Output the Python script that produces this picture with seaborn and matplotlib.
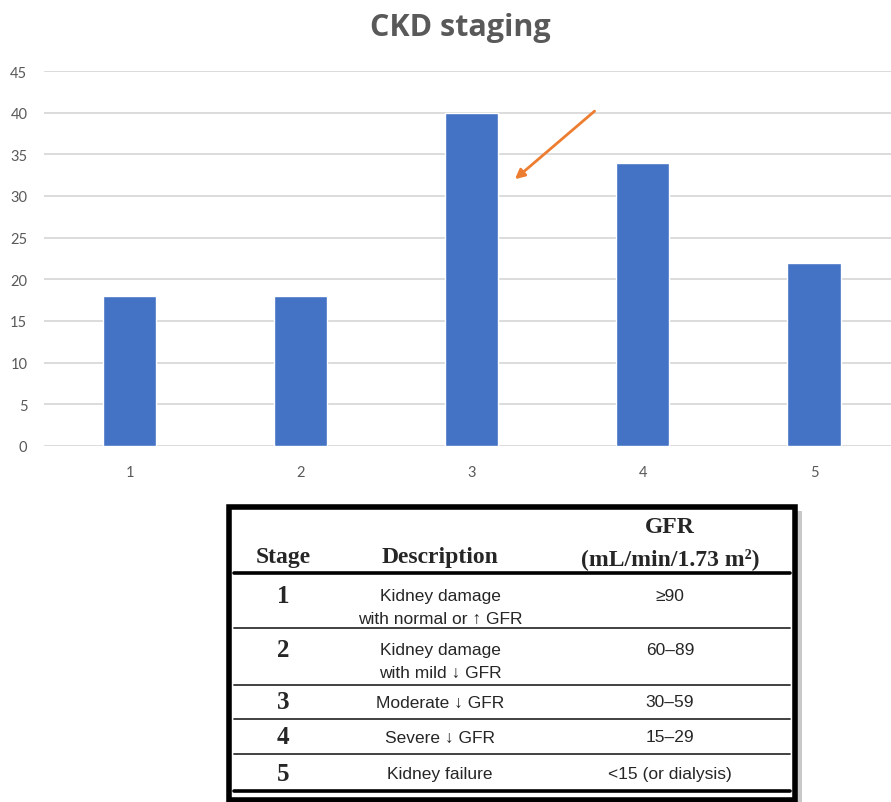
import matplotlib
matplotlib.use('Agg')
import matplotlib.pyplot as plt
import seaborn as sns

# Daten des Balkendiagramms
stages = ['1', '2', '3', '4', '5']
patients = [18, 18, 40, 34, 22]
y_ticks = [0, 5, 10, 15, 20, 25, 30, 35, 40, 45]

# Tabelle der CKD-Stadien
table_header = ['Stage', 'Description', 'GFR', '(mL/min/1.73 m²)']
table_stage = ['1', '2', '3', '4', '5']
table_desc = [['Kidney damage', 'with normal or ↑ GFR'],
              ['Kidney damage', 'with mild ↓ GFR'],
              ['Moderate ↓ GFR'],
              ['Severe ↓ GFR'],
              ['Kidney failure']]
table_gfr = ['≥90', '60–89', '30–59', '15–29', '<15 (or dialysis)']

sns.set_style('white')
plt.rcParams['font.family'] = ['Lato', 'DejaVu Sans']

fig = plt.figure(figsize=(8.91, 8.03), dpi=100)

# --- Balkendiagramm ---
ax = fig.add_axes([44 / 891, 1 - 447 / 803, 1 - 44 / 891, (447 - 72) / 803])
sns.barplot(x=stages, y=patients, color='#4472C4', saturation=1, width=0.31, ax=ax)
ax.set_ylim(0, 45)
ax.set_xlim(-0.5, 4.45)
ax.set_yticks(y_ticks)
ax.grid(axis='y', color='#D9D9D9', linewidth=1.3)
ax.set_axisbelow(True)
for s in ax.spines.values():
    s.set_visible(False)
ax.tick_params(axis='both', length=0, labelsize=10.5, labelcolor='#595959')
ax.tick_params(axis='y', pad=12)
ax.tick_params(axis='x', pad=14)
ax.set_xlabel('')
ax.set_ylabel('')

# Pfeil auf Stadium 3
ax.annotate('', xy=(2.24, 31.8), xytext=(2.73, 40.4),
            arrowprops=dict(arrowstyle='-|>', color='#ED7D31', lw=2, mutation_scale=14),
            annotation_clip=False)

fig.text(460 / 891, 1 - 28 / 803, 'CKD staging', ha='center', va='center',
         fontsize=22, fontweight='bold', color='#595959', family=['Open Sans', 'DejaVu Sans'])

# --- Tabelle (Pixelkoordinaten) ---
tx = fig.add_axes([0, 0, 1, 1])
tx.set_xlim(0, 891)
tx.set_ylim(803, 0)
tx.axis('off')

# Schatten und Rahmen
tx.add_patch(plt.Rectangle((232, 512), 570, 300, facecolor='#C8C8C8', edgecolor='none', zorder=1))
tx.add_patch(plt.Rectangle((229, 508), 566, 293, facecolor='white', edgecolor='black', lw=4, zorder=2))

serif = ['Liberation Serif', 'DejaVu Serif']
sans = ['Liberation Sans Narrow', 'Liberation Sans', 'DejaVu Sans']
col_stage, col_desc, col_gfr = 283, 440, 670

tx.text(col_stage, 558, table_header[0], ha='center', va='center', fontsize=17,
        fontweight='bold', family=serif, zorder=3)
tx.text(col_desc, 558, table_header[1], ha='center', va='center', fontsize=17,
        fontweight='bold', family=serif, zorder=3)
tx.text(col_gfr, 528, table_header[2], ha='center', va='center', fontsize=17,
        fontweight='bold', family=serif, zorder=3)
tx.text(col_gfr, 559, table_header[3], ha='center', va='center', fontsize=17,
        fontweight='bold', family=serif, zorder=3)

# Linien
tx.plot([234, 790], [574, 574], color='black', lw=2.6, zorder=3)
for yl in [629, 686, 720, 755]:
    tx.plot([234, 790], [yl, yl], color='#333333', lw=1.3, zorder=3)
tx.plot([234, 790], [792, 792], color='black', lw=2.6, zorder=3)

row_y = [597, 651, 703, 738, 775]
for i, y in enumerate(row_y):
    tx.text(col_stage, y, table_stage[i], ha='center', va='center', fontsize=18,
            fontweight='bold', family=serif, zorder=3)
    for j, line in enumerate(table_desc[i]):
        tx.text(col_desc, y + j * 22, line, ha='center', va='center', fontsize=12.5,
                family=sans, zorder=3)
    tx.text(col_gfr, y, table_gfr[i], ha='center', va='center', fontsize=12.5,
            family=sans, zorder=3)

fig.savefig('out.png', dpi=100)
